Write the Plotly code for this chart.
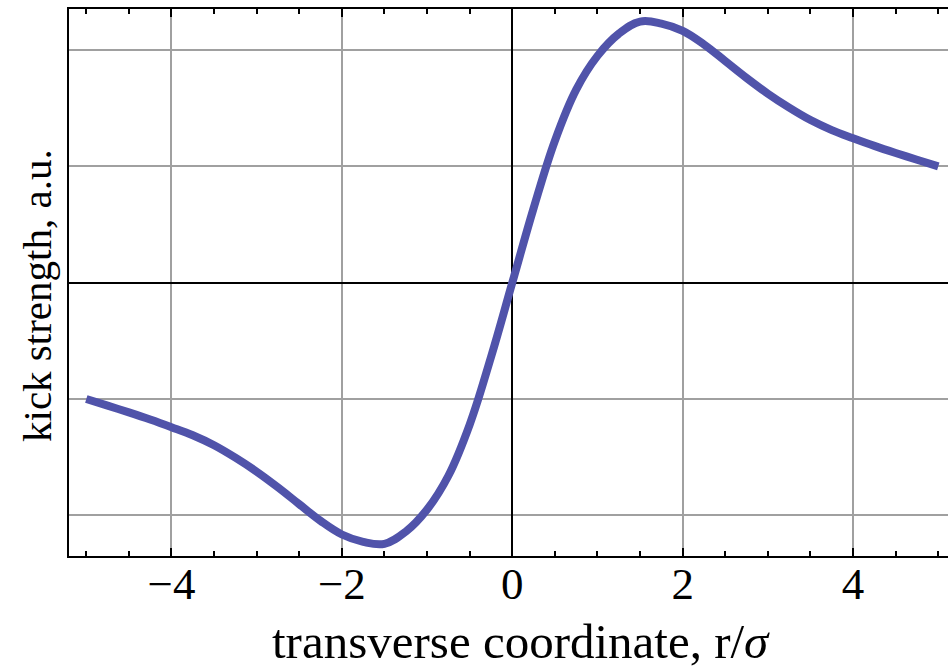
import plotly.graph_objects as go

# Data (curve centre line, every 0.25 in r/sigma)
r_sigma = [-5.0, -4.75, -4.5, -4.25, -4.0, -3.75, -3.5, -3.25, -3.0, -2.75, -2.5,
           -2.25, -2.0, -1.75, -1.5, -1.25, -1.0, -0.75, -0.5, -0.25, 0.0,
           0.25, 0.5, 0.75, 1.0, 1.25, 1.5, 1.75, 2.0, 2.25, 2.5,
           2.75, 3.0, 3.25, 3.5, 3.75, 4.0, 4.25, 4.5, 4.75, 5.0]
kick = [-1.0, -1.057, -1.115, -1.176, -1.242, -1.312, -1.398, -1.505, -1.625, -1.76, -1.905,
        -2.048, -2.165, -2.228, -2.245, -2.14, -1.95, -1.66, -1.22, -0.64, 0.0,
        0.64, 1.22, 1.66, 1.95, 2.14, 2.245, 2.228, 2.165, 2.048, 1.905,
        1.76, 1.625, 1.505, 1.398, 1.312, 1.242, 1.176, 1.115, 1.057, 1.0]

x_tickvals = [-4, -2, 0, 2, 4]
x_ticktext = ["\u22124", "\u22122", "0", "2", "4"]
y_gridvals = [-2, -1, 0, 1, 2]

FONT = "Liberation Serif"

fig = go.Figure()
fig.add_trace(go.Scatter(x=r_sigma, y=kick, mode="lines",
                         line=dict(color="#5053AA", width=8, shape="spline", smoothing=1.1),
                         hoverinfo="skip", showlegend=False))

fig.update_layout(
    width=948, height=671,
    margin=dict(l=69, r=0, t=9, b=115),
    paper_bgcolor="white", plot_bgcolor="white",
    font=dict(family=FONT, color="black"),
    xaxis=dict(range=[-5.203, 5.114], tickvals=x_tickvals, ticktext=x_ticktext,
               ticks="inside", ticklen=8, tickwidth=1.5, tickcolor="black",
               showline=True, linecolor="black", linewidth=2, mirror="ticks",
               showgrid=True, gridcolor="#a0a0a0", gridwidth=1.5,
               zeroline=True, zerolinecolor="black", zerolinewidth=1.5,
               tickfont=dict(family=FONT, size=45, color="black"),
               ticklabelstandoff=-13,
               minor=dict(dtick=0.5, tick0=0, ticks="inside", ticklen=5,
                          tickwidth=1.5, tickcolor="black", showgrid=False)),
    yaxis=dict(range=[-2.350, 2.353], tickvals=y_gridvals, showticklabels=False,
               ticks="", showline=True, linecolor="black", linewidth=2, mirror=False,
               showgrid=True, gridcolor="#a0a0a0", gridwidth=1.5,
               zeroline=True, zerolinecolor="black", zerolinewidth=1.5),
    annotations=[
        dict(text="transverse coordinate, r/<i>\u03c3</i>", xref="paper", yref="paper",
             x=(521 - 69) / 879, y=-(670 - 556) / 547, xanchor="center", yanchor="bottom",
             borderpad=0,
             showarrow=False, font=dict(family=FONT, size=49, color="black")),
        dict(text="kick strength, a.u.", xref="paper", yref="paper",
             x=-(69 - 37) / 879, y=(556 - 296) / 547, xanchor="center", yanchor="middle",
             textangle=-90, showarrow=False, font=dict(family=FONT, size=41, color="black")),
    ],
)

fig.write_html("out.html")
